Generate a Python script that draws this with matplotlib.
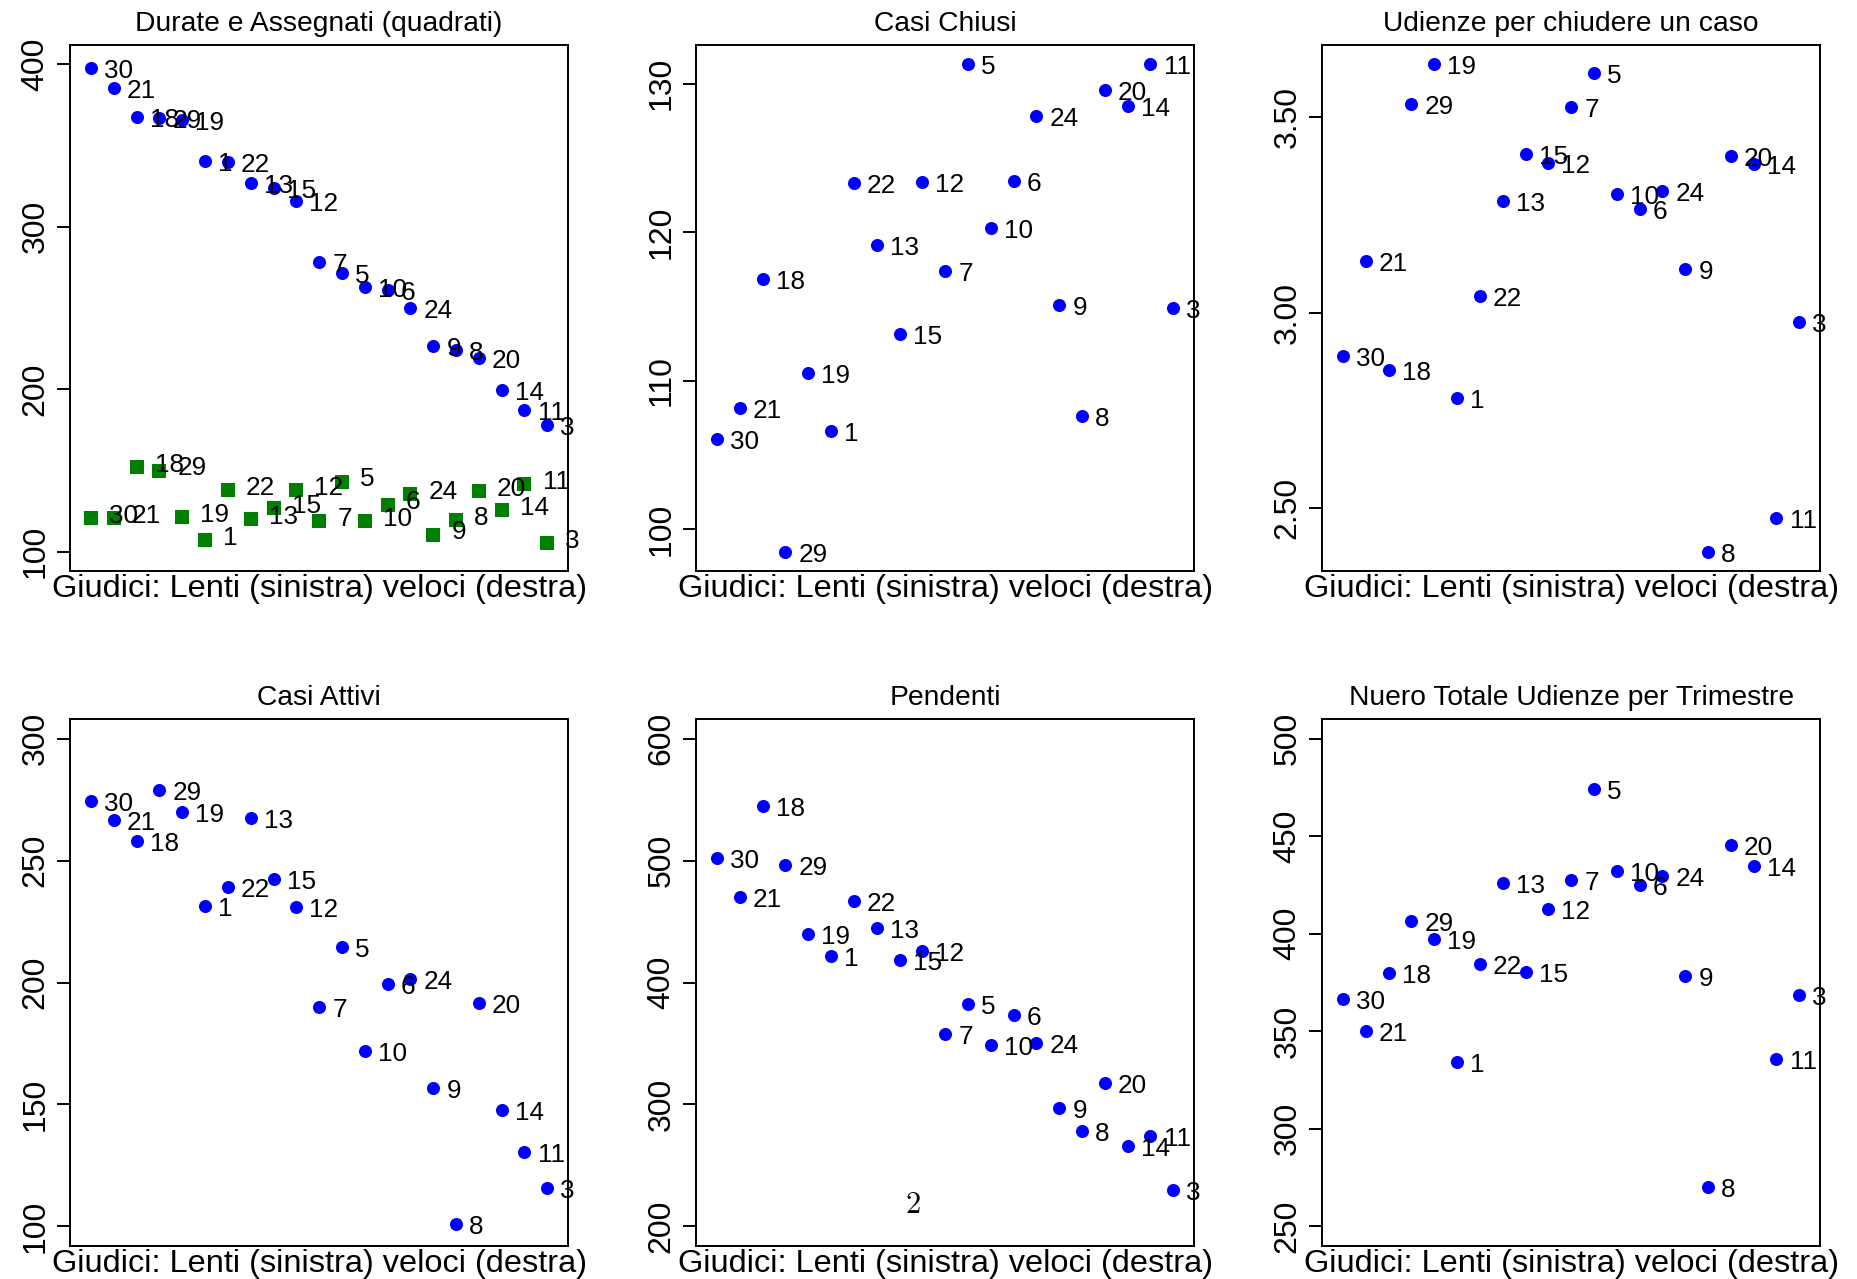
import matplotlib
matplotlib.use('Agg')
import matplotlib.pyplot as plt

plt.rcParams['font.family'] = ['Liberation Sans', 'DejaVu Sans']

# ---------------- data (judges ordered slow -> fast) ----------------
judges = [30, 21, 18, 29, 19, 1, 22, 13, 15, 12, 7, 5, 10, 6, 24, 9, 8, 20, 14, 11, 3]

durate = [398.1, 385.5, 367.5, 367.2, 365.5, 340.3, 340.2, 327.3, 324.2, 316.0, 278.1,
          271.8, 263.0, 261.3, 250.2, 226.3, 224.0, 219.0, 199.4, 187.1, 178.1]
assegnati = [120.6, 120.6, 152.0, 149.9, 121.4, 107.3, 137.6, 119.8, 127.0, 137.8, 118.5,
             143.1, 118.5, 128.9, 135.5, 110.4, 119.4, 137.4, 125.3, 141.4, 105.2]
chiusi = [106.1, 108.15, 116.86, 98.5, 110.55, 106.6, 123.3, 119.14, 113.16, 123.4, 117.4,
          131.29, 120.27, 123.46, 127.8, 115.13, 107.65, 129.58, 128.5, 131.29, 114.9]
udienze_caso = [2.890, 3.131, 2.852, 3.531, 3.633, 2.782, 3.043, 3.284, 3.405, 3.382, 3.525,
                3.610, 3.303, 3.264, 3.309, 3.111, 2.390, 3.400, 3.378, 2.475, 2.975]
attivi = [274.6, 266.5, 258.1, 278.9, 269.9, 231.3, 239.2, 267.4, 242.4, 231.0, 189.8,
          214.6, 171.8, 199.4, 201.3, 156.9, 100.8, 191.7, 147.7, 130.6, 115.7]
pendenti = [502.0, 469.9, 544.6, 496.7, 439.7, 421.7, 466.8, 444.7, 418.6, 425.8, 358.1,
            382.7, 348.7, 373.5, 350.2, 297.3, 277.8, 317.2, 265.8, 274.0, 229.6]
udienze_tot = [366.3, 350.2, 380.1, 406.3, 397.2, 334.1, 384.3, 426.2, 380.5, 412.8, 427.8,
               474.0, 432.1, 424.8, 429.5, 378.1, 270.3, 445.3, 434.8, 336.0, 368.7]

titles = ["Durate e Assegnati (quadrati)", "Casi Chiusi", "Udienze per chiudere un caso",
          "Casi Attivi", "Pendenti", "Nuero Totale Udienze per Trimestre"]
xlabel = "Giudici: Lenti (sinistra) veloci (destra)"

ticks_durate = [100, 200, 300, 400]
ticks_chiusi = [100, 110, 120, 130]
ticks_udienze_caso = [2.5, 3.0, 3.5]
ticks_attivi = [100, 150, 200, 250, 300]
ticks_pendenti = [200, 300, 400, 500, 600]
ticks_udienze_tot = [250, 300, 350, 400, 450, 500]

# ---------------- layout ----------------
W, H = 1857, 1279
fig = plt.figure(figsize=(W / 100, H / 100), dpi=100)


def box(l, t, r, b):
    return [l / W, 1 - b / H, (r - l) / W, (b - t) / H]


positions = [box(70, 45, 568.3, 571), box(696, 45, 1194.3, 571), box(1322, 45, 1820.3, 571),
             box(70, 719.3, 568.3, 1245.7), box(696, 719.3, 1194.3, 1245.7),
             box(1322, 719.3, 1820.3, 1245.7)]

BLUE = '#0000FF'
GREEN = '#008000'
LW = 1.4


def panel(pos, title, series, ylim_base, ticks, fmt="{:g}"):
    ax = fig.add_axes(pos)
    xs = list(range(1, len(judges) + 1))
    for vals, marker, color, off in series:
        ax.plot(xs, vals, ls='none', marker=marker, ms=9.4, color=color, mew=0)
        for xi, yi, j in zip(xs, vals, judges):
            ax.annotate(str(j), (xi, yi), xytext=off, textcoords='offset points',
                        ha='left', va='baseline', fontsize=18.8, color='black')
    if ylim_base is None:
        allv = [v for s in series for v in s[0]]
        lo, hi = min(allv), max(allv)
    else:
        lo, hi = ylim_base
    pad = 0.04 * (hi - lo)
    ax.set_ylim(lo - pad, hi + pad)
    ax.set_xlim(0.08, 21.92)
    ax.set_xticks([])
    ax.set_yticks(ticks)
    ax.set_yticklabels([fmt.format(t) for t in ticks], rotation=90, va='center')
    ax.tick_params(axis='y', length=9.1, width=LW, labelsize=23, pad=5.0)
    for sp in ax.spines.values():
        sp.set_linewidth(LW)
    ax.set_title(title, fontsize=20.3, pad=10)
    ax.annotate(xlabel, (0.5, 0), xycoords='axes fraction', xytext=(0, -19.0),
                textcoords='offset points', ha='center', va='baseline', fontsize=23.4)
    return ax


blue_off = (9.4, -7.2)
green_off = (13.0, -3.5)

panel(positions[0], titles[0],
      [(durate, 'o', BLUE, blue_off), (assegnati, 's', GREEN, green_off)],
      (100, 400), ticks_durate)
panel(positions[1], titles[1], [(chiusi, 'o', BLUE, blue_off)], None, ticks_chiusi)
panel(positions[2], titles[2], [(udienze_caso, 'o', BLUE, blue_off)], None,
      ticks_udienze_caso, fmt="{:.2f}")
panel(positions[3], titles[3], [(attivi, 'o', BLUE, blue_off)], (100, 300), ticks_attivi)
panel(positions[4], titles[4], [(pendenti, 'o', BLUE, blue_off)], (200, 600), ticks_pendenti)
panel(positions[5], titles[5], [(udienze_tot, 'o', BLUE, blue_off)], (250, 500),
      ticks_udienze_tot)

# page number
fig.text(913.3 / W, 1 - 1205 / H, "2", family=['cmr10', 'DejaVu Serif'], fontsize=22,
         ha='center', va='center')

fig.savefig('out.png', dpi=100)
